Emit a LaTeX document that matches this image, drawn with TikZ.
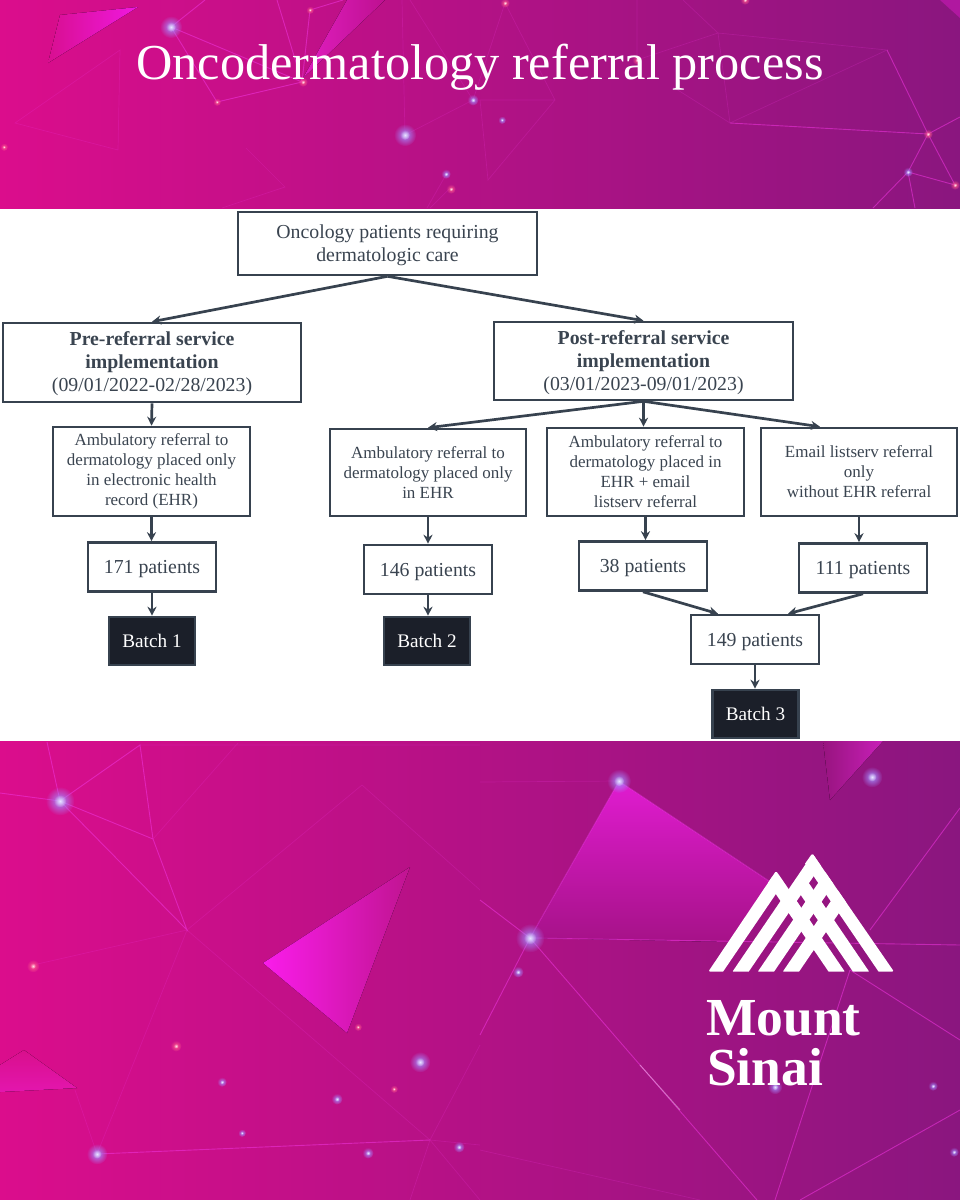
\documentclass[tikz,border=0pt]{standalone}
\usepackage{fontspec}
\setmainfont{Liberation Serif}
\usetikzlibrary{arrows.meta,fadings}
\definecolor{bandleft}{HTML}{DB0D8C}
\definecolor{bandright}{HTML}{8A167F}
\definecolor{boxline}{HTML}{37424F}
\definecolor{boxtext}{HTML}{3A4450}
\definecolor{batchfill}{HTML}{1B1F29}
\definecolor{webpink}{HTML}{F035E0}
\definecolor{glowblue}{HTML}{A48CFF}
\definecolor{glowred}{HTML}{FF5A8C}
\definecolor{kiteback}{HTML}{D80F90}
\definecolor{kitefront}{HTML}{F018E0}
\definecolor{streaklit}{HTML}{E01EC0}
\definecolor{streakdim}{HTML}{BE1090}
\definecolor{cornerfill}{HTML}{B018A0}
\definecolor{dartlit}{HTML}{FA1CEB}
\definecolor{dartdim}{HTML}{C01490}
\definecolor{wedgedim}{HTML}{D90F8C}
\definecolor{wedgelit}{HTML}{E316AE}
\definecolor{sheetlit}{HTML}{E01CD0}
\definecolor{sheetdim}{HTML}{A61288}
\definecolor{flagdim}{HTML}{98147F}
\definecolor{flaglit}{HTML}{C81FB8}
\tikzfading[name=glowfade, inner color=transparent!0, outer color=transparent!100]
\tikzset{
  boxnode/.style={draw=boxline, line width=2.6pt, fill=white, text=boxtext, align=center, inner sep=0pt},
  bigtext/.style={font=\fontsize{19.8}{23}\selectfont},
  smalltext/.style={font=\fontsize{17}{20}\selectfont},
  countbox/.style={boxnode, bigtext, minimum width=128, minimum height=49, execute at begin node={\rule{0pt}{18pt}}},
  batchbox/.style={boxnode, fill=batchfill, text=white, font=\fontsize{19.2}{20}\selectfont, minimum width=86, minimum height=48},
  flow/.style={draw=boxline, line width=2.7pt, -{Stealth[length=9pt,width=9pt]}},
  webbright/.style={draw=webpink, line width=0.9pt, opacity=0.55},
  webfaint/.style={draw=webpink, line width=0.7pt, opacity=0.2},
}
\newcommand{\glowdot}[4]{%
  \fill[#3, path fading=glowfade] (#1,#2) circle ({0.8*#4});
  \fill[white, opacity=0.75, path fading=glowfade] (#1,#2) circle ({0.35*#4});
}
\begin{document}
\begin{tikzpicture}[x=1pt,y=-1pt]
  \useasboundingbox (0,0) rectangle (960,1200);
  % Bands
  \fill[left color=bandleft, right color=bandright] (0,0) rectangle (960,209);
  \fill[left color=bandleft, right color=bandright] (0,741) rectangle (960,1200);
  \fill[white] (0,209) rectangle (960,741);

  % Top band shapes
  \fill[left color=kiteback, right color=kitefront] (138,7) -- (60,15) -- (48,63) -- cycle;
  \fill[left color=streaklit, right color=streakdim] (347,0) -- (385,0) -- (303,78) -- cycle;
  \draw[webfaint] (120,50) -- (15,123) -- (118,150) -- cycle;
  \draw[webfaint] (246,148) -- (285,187) -- (222,208);
  \draw[webbright] (171,27) -- (217,102) -- (302,82) -- (171,27) -- (205,0);
  \draw[webbright] (277,0) -- (302,82) -- (310,10) -- (343,0);
  \draw[webfaint] (402,0) -- (405,135) -- (473,100) -- (410,0);
  \draw[webfaint] (473,100) -- (505,3) -- (555,100) -- (488,180) -- (480,100) -- (555,100);
  \draw[webfaint] (447,173) -- (427,208) (450,188) -- (430,208);
  \draw[webfaint] (637,0) -- (637,60) -- (718,33) -- (683,0);
  \draw[webfaint] (718,33) -- (887,50) -- (730,123) -- (673,87) (718,33) -- (730,123);
  \draw[webbright] (730,123) -- (928,134) -- (887,50);
  \draw[webbright] (928,134) -- (955,185) -- (908,172) -- (928,134) -- (960,117);
  \draw[webbright] (873,208) -- (908,172) -- (915,208);
  \fill[cornerfill] (960,0) -- (940,0) -- (960,18) -- cycle;
  \glowdot{171}{27}{glowblue}{14}
  \glowdot{405}{135}{glowblue}{14}
  \glowdot{473}{100}{glowblue}{7}
  \glowdot{303}{82}{glowred}{6}
  \glowdot{310}{10}{glowred}{5}
  \glowdot{217}{102}{glowred}{5}
  \glowdot{446}{174}{glowblue}{6}
  \glowdot{451}{189}{glowred}{6}
  \glowdot{505}{3}{glowred}{6}
  \glowdot{637}{60}{glowred}{6}
  \glowdot{745}{0}{glowred}{6}
  \glowdot{928}{134}{glowred}{6}
  \glowdot{908}{172}{glowblue}{6}
  \glowdot{955}{185}{glowred}{6}
  \glowdot{4}{147}{glowred}{5}
  \glowdot{502}{120}{glowblue}{5}

  % Bottom band shapes
  \fill[left color=dartlit, right color=dartdim] (263,963) -- (410,867) -- (347,1033) -- cycle;
  \fill[top color=wedgedim, bottom color=wedgelit] (0,1092) -- (77,1088) -- (24,1050) -- (0,1065) -- cycle;
  \fill[top color=sheetlit, bottom color=sheetdim] (619,781) -- (530,938) -- (730,942) -- (775,885) -- cycle;
  \fill[left color=flagdim, right color=flaglit] (830,800) -- (823,741) -- (883,741) -- cycle;
  \draw[webbright] (0,793) -- (60,801) -- (47,742);
  \draw[webbright] (60,801) -- (140,745) -- (153,839) -- (60,801) -- (187,930) -- (153,839);
  \draw[webfaint] (153,839) -- (238,743) (140,745) -- (480,745);
  \draw[webfaint] (187,930) -- (33,965) (187,930) -- (362,785) -- (480,890);
  \draw[webfaint] (187,930) -- (430,1140) -- (480,1145);
  \draw[webfaint] (187,930) -- (97,1154) -- (75,1090);
  \draw[webbright] (97,1154) -- (430,1140);
  \draw[webfaint] (430,1140) -- (480,1045) (430,1140) -- (410,1200) (430,1140) -- (480,1200);
  \draw[webbright] (619,781) -- (530,938) -- (960,945);
  \draw[webbright] (619,781) -- (775,885);
  \draw[webbright] (530,938) -- (757,1200);
  \draw[white, line width=1pt, opacity=0.35] (640,1065) -- (680,1110);
  \draw[webbright] (530,938) -- (480,900);
  \draw[webbright] (530,938) -- (480,1035);
  \draw[webbright] (870,930) -- (960,808);
  \draw[webbright] (850,970) -- (960,1040);
  \draw[webbright] (850,970) -- (775,1200);
  \draw[webbright] (960,1110) -- (800,1200);
  \draw[webfaint] (480,1150) -- (700,1200) (480,782) -- (619,781);
  \glowdot{60}{801}{glowblue}{18}
  \glowdot{97}{1154}{glowblue}{13}
  \glowdot{530}{938}{glowblue}{18}
  \glowdot{619}{781}{glowblue}{15}
  \glowdot{872}{777}{glowblue}{13}
  \glowdot{420}{1062}{glowblue}{13}
  \glowdot{33}{966}{glowred}{8}
  \glowdot{176}{1046}{glowred}{7}
  \glowdot{222}{1082}{glowblue}{6}
  \glowdot{242}{1133}{glowblue}{5}
  \glowdot{337}{1099}{glowblue}{7}
  \glowdot{394}{1089}{glowred}{5}
  \glowdot{358}{1027}{glowred}{5}
  \glowdot{368}{1153}{glowblue}{7}
  \glowdot{459}{1147}{glowblue}{7}
  \glowdot{518}{972}{glowblue}{7}
  \glowdot{933}{1086}{glowblue}{6}
  \glowdot{954}{1152}{glowblue}{6}
  \glowdot{775}{1087}{glowblue}{9}

  % Title
  \node[anchor=base, text=white, font=\fontsize{50.3}{54}\selectfont] (title) at (480,79) {Oncodermatology referral process};

  % Flow boxes
  \node[boxnode, bigtext, minimum width=299, minimum height=63] (patients) at (387.5,243.5) {\rule{0pt}{18pt}Oncology patients requiring\\dermatologic care};
  \node[boxnode, bigtext, minimum width=298, minimum height=79] (pre) at (152,362.5) {\rule{0pt}{16pt}\textbf{Pre-referral service}\\\textbf{implementation}\\(09/01/2022-02/28/2023)};
  \node[boxnode, bigtext, minimum width=299, minimum height=78] (post) at (643.5,361) {\rule{0pt}{18pt}\textbf{Post-referral service}\\\textbf{implementation}\\(03/01/2023-09/01/2023)};
  \node[boxnode, smalltext, minimum width=197, minimum height=89] (ehrlong) at (151.5,471.5) {Ambulatory referral to\\dermatology placed only\\in electronic health\\record (EHR)};
  \node[boxnode, smalltext, minimum width=196, minimum height=87] (ehronly) at (428,472.5) {Ambulatory referral to\\dermatology placed only\\in EHR};
  \node[boxnode, smalltext, minimum width=197, minimum height=88] (ehrmail) at (645.5,472) {Ambulatory referral to\\dermatology placed in\\EHR + email\\listserv referral};
  \node[boxnode, smalltext, minimum width=196, minimum height=88] (mailonly) at (859,472) {Email listserv referral\\only\\without EHR referral};
  \node[countbox] (countA) at (152,567) {171 patients};
  \node[countbox] (countB) at (428,569.5) {146 patients};
  \node[countbox] (countC) at (643,566) {38 patients};
  \node[countbox] (countD) at (863,568) {111 patients};
  \node[countbox] (countE) at (755,639.5) {149 patients};
  \node[batchbox] (batchA) at (152,641) {Batch 1};
  \node[batchbox] (batchB) at (427,641) {Batch 2};
  \node[batchbox] (batchC) at (755.5,714) {Batch 3};

  % Arrows
  \draw[flow] (patients.south) -- (pre.north);
  \draw[flow] (patients.south) -- (post.north);
  \draw[flow] (pre.south) -- (ehrlong.north);
  \draw[flow] (post.south) -- (ehronly.north);
  \draw[flow] (post.south) -- (post.south |- ehrmail.north);
  \draw[flow] (post.south) -- ([xshift=-39pt]mailonly.north);
  \draw[flow] (ehrlong.south) -- (ehrlong.south |- countA.north);
  \draw[flow] (ehronly.south) -- (countB.north);
  \draw[flow] (ehrmail.south) -- (ehrmail.south |- countC.north);
  \draw[flow] (mailonly.south) -- (mailonly.south |- countD.north);
  \draw[flow] (countA.south) -- (batchA.north -| countA.south);
  \draw[flow] (countB.south) -- (batchB.north -| countB.south);
  \draw[flow] (countC.south) -- ([xshift=-37pt]countE.north);
  \draw[flow] (countD.south) -- ([xshift=33pt]countE.north);
  \draw[flow] (countE.south) -- (batchC.north -| countE.south);

  % Logo
  \begin{scope}[shift={(680,830)},x=0.3333pt,y=-0.3333pt]
    \clip[rounded corners=1.5pt] (85,425) -- (288,123) -- (325,172) -- (397,70) -- (642,425) -- cycle;
    \foreach \bx/\h in {105/275,182/345,258/300,333/245} {
      \pgfmathsetmacro{\ex}{\bx+0.68*\h}
      \pgfmathsetmacro{\ey}{425-\h}
      \draw[white, line width=13.4pt] (\bx-7,435) -- (\ex,\ey);
    }
    \foreach \bx/\h in {620/360,543/270,470/320} {
      \pgfmathsetmacro{\ex}{\bx-0.68*\h}
      \pgfmathsetmacro{\ey}{425-\h}
      \draw[white, line width=13.4pt] (\bx+7,435) -- (\ex,\ey);
    }
  \end{scope}
  \node[anchor=base west, inner sep=0pt, text=white, font=\fontsize{53.5}{54}\selectfont\bfseries] (mount) at (706,1035) {Mount};
  \node[anchor=base west, inner sep=0pt, text=white, font=\fontsize{53.5}{54}\selectfont\bfseries] (sinai) at (707,1085) {Sinai};
\end{tikzpicture}
\end{document}
